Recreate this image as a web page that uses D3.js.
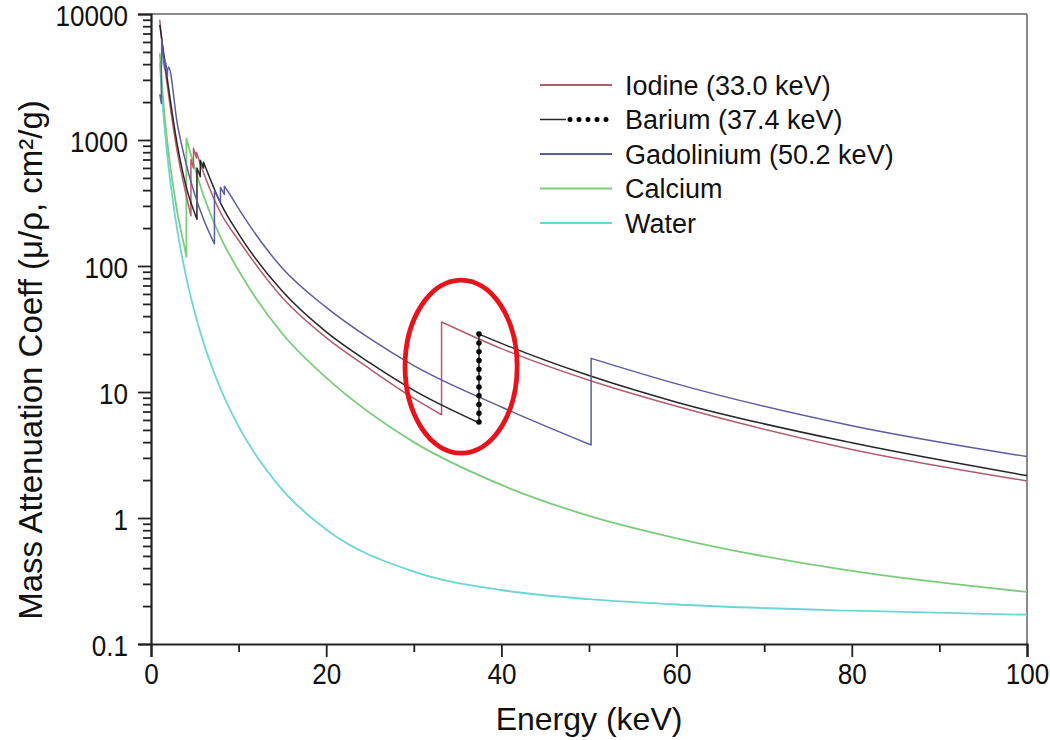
<!DOCTYPE html>
<html>
<head>
<meta charset="utf-8">
<script src="https://cdn.jsdelivr.net/npm/d3@7"></script>
<style>
  html, body { margin: 0; padding: 0; background: #ffffff; }
  svg { display: block; font-family: "Liberation Sans", Arial, sans-serif; }
</style>
</head>
<body>
<svg id="chart" width="1050" height="740"></svg>
<script>
// ---------------- data (energy in keV, mass attenuation in cm^2/g) ----------------
const energyIodine = [1, 1.5, 2, 3, 4, 4.557, 4.557, 4.852, 4.852, 5.188, 5.188, 6, 8, 10, 15, 20, 25, 30, 33.17, 33.17, 40, 50, 60, 80, 100];
const iodine       = [9000, 4200, 2300, 800, 370, 250, 700, 600, 860, 720, 800, 550, 260, 160, 56, 27, 15.2, 8.9, 6.6, 36, 22.1, 12.4, 7.7, 3.5, 1.97];

const energyBarium = [1, 1.5, 2, 3, 4, 5.247, 5.247, 5.624, 5.624, 5.989, 5.989, 8, 10, 15, 20, 25, 30, 37.44, 37.44, 40, 50, 60, 80, 100];
const barium       = [8200, 4600, 2600, 920, 430, 235, 600, 510, 690, 600, 670, 310, 180, 63, 30, 17, 10.3, 5.7, 28.8, 24.3, 13.5, 8.3, 3.95, 2.17];

const energyGadolinium = [1, 1.185, 1.185, 1.217, 1.217, 1.544, 1.544, 1.688, 1.688, 1.881, 1.881, 2, 3, 4, 5, 6, 7.243, 7.243, 7.93, 7.93, 8.376, 8.376, 9, 10, 15, 20, 25, 30, 40, 50.24, 50.24, 60, 80, 100];
const gadolinium       = [2300, 1950, 4200, 4000, 6200, 3700, 4400, 3700, 4100, 3200, 3500, 3800, 1350, 650, 370, 235, 150, 395, 320, 420, 370, 430, 370, 285, 96, 47, 26.5, 16.2, 7.6, 3.8, 18.5, 11.6, 5.4, 3.07];

const energyCalcium = [1, 1.5, 2, 3, 4, 4.038, 4.038, 5, 6, 8, 10, 15, 20, 30, 40, 50, 60, 80, 100];
const calcium       = [4870, 1700, 800, 268, 122, 118, 1030, 600, 363, 166, 92, 29, 13, 4.0, 1.83, 1.04, 0.69, 0.38, 0.259];

const energyWater = [1, 1.5, 2, 3, 4, 5, 6, 8, 10, 15, 20, 30, 40, 50, 60, 80, 100];
const water       = [4078, 1376, 617.3, 192.9, 82.78, 42.58, 24.64, 10.37, 5.329, 1.673, 0.8096, 0.3756, 0.2683, 0.2269, 0.2059, 0.1837, 0.1707];

const seriesNames  = ["Iodine (33.0 keV)", "Barium (37.4 keV)", "Gadolinium (50.2 keV)", "Calcium", "Water"];
const seriesColors = ["#b25c6c", "#262626", "#5c5ca0", "#7ccc7c", "#6ad6d6"];

// Barium K-edge (dotted) and highlight ellipse (data units)
const bariumEdge = { energy: 37.44, low: 5.7, high: 28.8 };
const ellipseNote = { energy: 35.4, value: 15.9, halfWidthKeV: 6.4, halfHeightDecades: 0.687 };

const xTicks = [0, 20, 40, 60, 80, 100];
const xMinorTicks = [10, 30, 50, 70, 90];
const yTicks = [0.1, 1, 10, 100, 1000, 10000];
const yTickLabels = ["0.1", "1", "10", "100", "1000", "10000"];
const xTitle = "Energy (keV)";
const yTitle = "Mass Attenuation Coeff (μ/ρ, cm²/g)";

// ---------------- layout ----------------
const svg = d3.select("#chart");
const L = 151, R = 1027, T = 14, B = 644;

const x = d3.scaleLinear().domain([0, 100]).range([L, R]);
const y = d3.scaleLog().domain([0.1, 10000]).range([B, T]);

svg.append("defs").append("clipPath").attr("id", "plotclip")
  .append("rect").attr("x", L).attr("y", T).attr("width", R - L).attr("height", B - T);

// frame top/right (gray)
svg.append("line").attr("x1", L).attr("x2", R).attr("y1", T).attr("y2", T)
  .attr("stroke", "#8a8a8a").attr("stroke-width", 2);
svg.append("line").attr("x1", R).attr("x2", R).attr("y1", T).attr("y2", B)
  .attr("stroke", "#8a8a8a").attr("stroke-width", 2);

// ---------------- series ----------------
const line = d3.line().x(d => x(d[0])).y(d => y(d[1])).curve(d3.curveMonotoneX);
function pathFor(E, V) {
  const segs = [];
  let cur = [];
  E.forEach((e, i) => {
    if (i > 0 && e === E[i - 1]) { segs.push(cur); cur = []; }
    cur.push([e, V[i]]);
  });
  segs.push(cur);
  return segs.map((s, i) => {
    const p = line(s);
    return i === 0 ? p : "L" + p.slice(1);
  }).join("");
}

const series = [
  [energyWater, water, 4],
  [energyCalcium, calcium, 3],
  [energyIodine, iodine, 0],
  [energyBarium, barium, 1],
  [energyGadolinium, gadolinium, 2]
];
const gPlot = svg.append("g").attr("clip-path", "url(#plotclip)");
series.forEach(([E, V, ci]) => {
  gPlot.append("path").attr("d", pathFor(E, V))
    .attr("fill", "none").attr("stroke", seriesColors[ci])
    .attr("stroke-width", ci >= 3 ? 1.8 : 1.5).attr("stroke-linejoin", "round");
});

// Barium dotted K-edge
gPlot.append("line")
  .attr("x1", x(bariumEdge.energy)).attr("x2", x(bariumEdge.energy))
  .attr("y1", y(bariumEdge.high)).attr("y2", y(bariumEdge.low))
  .attr("stroke", "#000").attr("stroke-width", 5.5)
  .attr("stroke-linecap", "round").attr("stroke-dasharray", "0 8.8");

// ellipse annotation
svg.append("ellipse")
  .attr("cx", x(ellipseNote.energy)).attr("cy", y(ellipseNote.value))
  .attr("rx", x(ellipseNote.energy + ellipseNote.halfWidthKeV) - x(ellipseNote.energy))
  .attr("ry", y(ellipseNote.value / Math.pow(10, ellipseNote.halfHeightDecades)) - y(ellipseNote.value))
  .attr("fill", "none").attr("stroke", "#e8121a").attr("stroke-width", 4.8);

// ---------------- axes ----------------
const fontPx = 29, squeeze = 0.9;

const xAxis = svg.append("g").attr("transform", `translate(0,${B})`)
  .call(d3.axisBottom(x).tickValues(xTicks).tickSize(13).tickFormat(d3.format("d")));
svg.append("g").attr("transform", `translate(0,${B})`)
  .call(d3.axisBottom(x).tickValues(xMinorTicks).tickSize(8).tickFormat(""))
  .call(g => g.select(".domain").remove());

const yAxis = svg.append("g").attr("transform", `translate(${L},0)`)
  .call(d3.axisLeft(y).tickValues(yTicks).tickSize(13).tickFormat((d, i) => yTickLabels[i]));
const yMinor = [];
[0.1, 1, 10, 100, 1000].forEach(dec => { for (let k = 2; k <= 9; k++) yMinor.push(dec * k); });
svg.append("g").attr("transform", `translate(${L},0)`)
  .call(d3.axisLeft(y).tickValues(yMinor).tickSize(8).tickFormat(""))
  .call(g => g.select(".domain").remove());

svg.selectAll(".domain").attr("stroke", "#222").attr("stroke-width", 2.2);
svg.selectAll(".tick line").attr("stroke", "#222").attr("stroke-width", 1.8);

xAxis.selectAll(".tick text")
  .attr("font-size", fontPx).attr("fill", "#111").attr("y", 0).attr("dy", 0)
  .attr("transform", `translate(0,40) scale(${squeeze},1)`);
yAxis.selectAll(".tick text")
  .attr("font-size", fontPx).attr("fill", "#111").attr("x", 0).attr("dy", "0.36em")
  .attr("transform", `translate(-23,1) scale(${squeeze},1)`);

// titles
svg.append("text").attr("transform", `translate(${(L + R) / 2},730)`)
  .attr("text-anchor", "middle").attr("font-size", 32).attr("fill", "#111").text(xTitle);
svg.append("text").attr("transform", `translate(42,360) rotate(-90)`)
  .attr("text-anchor", "middle").attr("font-size", 33).attr("fill", "#111").text(yTitle);

// ---------------- legend ----------------
const legendX0 = 540, legendX1 = 612, legendTextX = 625, legendY0 = 85, legendDY = 34.5;
const lg = svg.append("g");
seriesNames.forEach((name, i) => {
  const yy = legendY0 + i * legendDY;
  if (i === 1) {
    lg.append("line").attr("x1", legendX0).attr("x2", 566).attr("y1", yy).attr("y2", yy)
      .attr("stroke", seriesColors[i]).attr("stroke-width", 1.5);
    lg.append("line").attr("x1", 570).attr("x2", legendX1).attr("y1", yy).attr("y2", yy)
      .attr("stroke", "#000").attr("stroke-width", 5).attr("stroke-linecap", "round")
      .attr("stroke-dasharray", "0 9");
  } else {
    lg.append("line").attr("x1", legendX0).attr("x2", legendX1).attr("y1", yy).attr("y2", yy)
      .attr("stroke", seriesColors[i]).attr("stroke-width", 2);
  }
  lg.append("text").attr("transform", `translate(${legendTextX},${yy})`)
    .attr("dy", "0.36em").attr("font-size", 27).attr("fill", "#111").text(name);
});
</script>
</body>
</html>
